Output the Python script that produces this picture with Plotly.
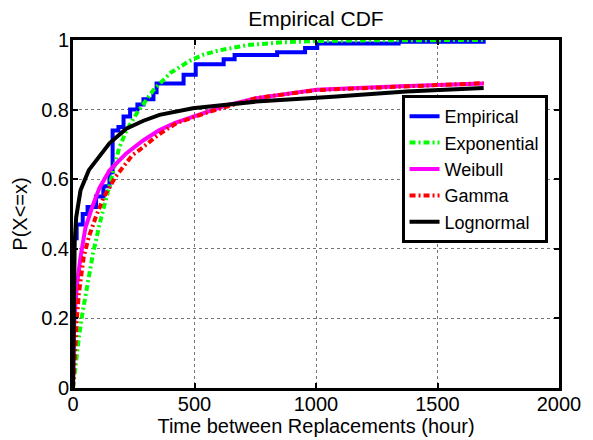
import plotly.graph_objects as go

# ---- data ----
emp_x = [0, 15, 40, 60, 95, 125, 150, 163, 187, 208, 235, 265, 290, 331, 344, 455, 505, 620, 665, 840, 955, 1005, 1340, 1690]
emp_y = [0.43, 0.47, 0.50, 0.52, 0.55, 0.58, 0.62, 0.74, 0.75, 0.78, 0.80, 0.815, 0.83, 0.85, 0.875, 0.90, 0.93, 0.945, 0.957, 0.965, 0.977, 0.99, 0.995, 1.0]

exp_x = [0, 10, 25, 40, 60, 82, 109, 137, 165, 190, 220, 263, 331, 400, 480, 537, 600, 715, 850, 1000, 1200, 1690]
exp_y = [0, 0.07, 0.15, 0.22, 0.30, 0.385, 0.47, 0.55, 0.63, 0.69, 0.74, 0.79, 0.856, 0.905, 0.94, 0.958, 0.97, 0.985, 0.993, 0.997, 0.999, 1.0]

wei_x = [0, 2, 5, 10, 17, 31, 51, 79, 109, 150, 219, 290, 356, 420, 493, 631, 754, 1002, 1346, 1690]
wei_y = [0, 0.10, 0.18, 0.24, 0.30, 0.376, 0.46, 0.52, 0.575, 0.625, 0.674, 0.712, 0.741, 0.762, 0.78, 0.812, 0.833, 0.857, 0.867, 0.875]

gam_x = [0, 3, 9, 16, 24, 44, 65, 93, 127, 175, 244, 274, 350, 425, 562, 754, 1000, 1346, 1690]
gam_y = [0, 0.05, 0.12, 0.20, 0.27, 0.376, 0.434, 0.49, 0.549, 0.607, 0.669, 0.684, 0.727, 0.761, 0.794, 0.833, 0.856, 0.867, 0.876]

log_x = [0, 1, 2, 4, 7, 13, 31, 65, 120, 150, 219, 290, 356, 493, 631, 754, 1069, 1372, 1690]
log_y = [0, 0.12, 0.22, 0.33, 0.42, 0.49, 0.568, 0.626, 0.678, 0.703, 0.745, 0.768, 0.785, 0.804, 0.814, 0.823, 0.837, 0.852, 0.862]

title_text = "Empirical CDF"
x_title = "Time between Replacements (hour)"
y_title = "P(X<=x)"

FONT = "Liberation Sans, Arial, Helvetica, sans-serif"

fig = go.Figure()
fig.add_trace(go.Scatter(x=emp_x, y=emp_y, mode="lines", name="Empirical",
                         line=dict(color="#0000FF", width=4, shape="hv")))
fig.add_trace(go.Scatter(x=exp_x, y=exp_y, mode="lines", name="Exponential",
                         line=dict(color="#00FF00", width=4, dash="6px,3px,2px,3px")))
fig.add_trace(go.Scatter(x=wei_x, y=wei_y, mode="lines", name="Weibull",
                         line=dict(color="#FF00FF", width=4)))
fig.add_trace(go.Scatter(x=gam_x, y=gam_y, mode="lines", name="Gamma",
                         line=dict(color="#FF0000", width=4, dash="6px,3px,2px,3px")))
fig.add_trace(go.Scatter(x=log_x, y=log_y, mode="lines", name="Lognormal",
                         line=dict(color="#000000", width=4)))

axis_common = dict(
    showline=True, linecolor="black", linewidth=3, mirror="ticks",
    ticks="inside", ticklen=5, tickwidth=2, tickcolor="black",
    showgrid=True, gridcolor="#777777", gridwidth=1, griddash="dot",
    zeroline=False, automargin=False,
    tickfont=dict(family=FONT, size=20, color="black"),
)

fig.update_xaxes(range=[0, 2000], tick0=0, dtick=500, ticklabelstandoff=-4,
                 title=dict(text=x_title, font=dict(family=FONT, size=20, color="black"), standoff=0),
                 **axis_common)
fig.update_yaxes(range=[0, 1], tick0=0, dtick=0.2, ticklabelstandoff=-3,
                 title=dict(text=y_title, font=dict(family=FONT, size=20, color="black"), standoff=9),
                 **axis_common)

# page body has an 8px margin, so the figure is 8px smaller and top/left margins shifted
fig.update_layout(
    width=585, height=432,
    margin=dict(l=65, r=34, t=32, b=52),
    paper_bgcolor="white", plot_bgcolor="white",
    title=dict(text=title_text, x=0.5265, xanchor="center", y=0.975, yanchor="middle",
               font=dict(family=FONT, size=21, color="black")),
    font=dict(family=FONT, size=20, color="black"),
    legend=dict(x=0.676, y=0.842, xanchor="left", yanchor="top",
                bgcolor="white", bordercolor="black", borderwidth=3,
                font=dict(family=FONT, size=18, color="black"),
                tracegroupgap=0, itemwidth=30),
    showlegend=True,
)

fig.write_html("out.html")
